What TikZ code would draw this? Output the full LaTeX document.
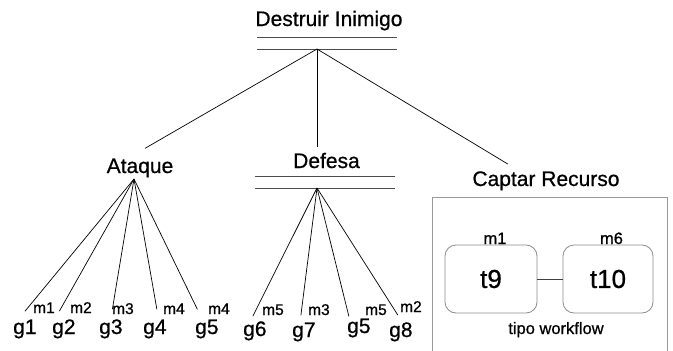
\documentclass[tikz,border=0pt]{standalone}
\usepackage{fontspec}
\setmainfont[FakeBold=0.7]{Liberation Sans}
\usetikzlibrary{calc}
\begin{document}
\begin{tikzpicture}[x=1pt,y=-1pt,
  lbl/.style={inner sep=0pt, anchor=base, font=\fontsize{21}{21}\selectfont},
  glbl/.style={inner sep=0pt, anchor=base west, font=\fontsize{21}{21}\selectfont},
  mlbl/.style={inner sep=0pt, anchor=base west, font=\fontsize{15.5}{15.5}\selectfont},
  small/.style={inner sep=0pt, anchor=base, font=\fontsize{16.5}{16.5}\selectfont},
  conn/.style={draw=black, line width=0.7pt},
  dbl/.style={draw=black!70, line width=0.8pt},
  frame/.style={draw=black!40, line width=1pt},
  tbox/.style={draw=black!45, line width=0.8pt, rounded corners=11pt, minimum width=92pt, minimum height=68pt, inner sep=0pt, font=\fontsize{26}{26}\selectfont},
  tlink/.style={draw=black!75, line width=1pt}]
\useasboundingbox (0,0) rectangle (673,351);

% top goal
\node[lbl] (dest) at (329,26) {Destruir Inimigo};
\draw[dbl] (257,37) -- (397,37);
\draw[dbl] (257,49) -- (397,49);
\coordinate (destapex) at (317,49);

% second level
\node[lbl] (ataque) at (140,173) {Ataque};
\node[lbl] (defesa) at (326.5,168) {Defesa};
\node[lbl] (captar) at (546,186) {Captar Recurso};

\draw[conn] (destapex) -- ($(ataque.north)+(5,-10)$);
\draw[conn] (destapex) -- ($(defesa.north)+(-9.5,-6)$);
\draw[conn] (destapex) -- ($(captar.north)+(-38,-7)$);

% Defesa double lines
\draw[dbl] (255,176) -- (395,176);
\draw[dbl] (255,188) -- (395,188);
\coordinate (defapex) at (317,188);
\coordinate (ataapex) at (134,179);

% Ataque leaves
\node[glbl] (g1) at (13,334) {g1};
\node[mlbl] (m1a) at (33,313) {m1};
\node[glbl] (g2) at (52,334) {g2};
\node[mlbl] (m2a) at (70,313) {m2};
\node[glbl] (g3) at (99,334) {g3};
\node[mlbl] (m3a) at (112,314) {m3};
\node[glbl] (g4) at (143,334) {g4};
\node[mlbl] (m4a) at (163,314) {m4};
\node[glbl] (g5) at (195,334) {g5};
\node[mlbl] (m4b) at (208,314) {m4};

\draw[conn] (ataapex) -- ($(g1.north)+(0,-8)$);
\draw[conn] (ataapex) -- ($(g2.north)+(-4.5,-8)$);
\draw[conn] (ataapex) -- ($(g3.north)+(1.5,-10)$);
\draw[conn] (ataapex) -- ($(g4.north)+(2,-10)$);
\draw[conn] (ataapex) -- ($(g5.north)+(-9.5,-10)$);

% Defesa leaves
\node[glbl] (g6) at (243,336) {g6};
\node[mlbl] (m5a) at (262,315) {m5};
\node[glbl] (g7) at (292,337) {g7};
\node[mlbl] (m3b) at (308,315) {m3};
\node[glbl] (g5b) at (347,333) {g5};
\node[mlbl] (m5b) at (365,315) {m5};
\node[glbl] (g8) at (389,337) {g8};
\node[mlbl] (m2b) at (400,312) {m2};

\draw[conn] (defapex) -- ($(g6.north)+(-2,-5)$);
\draw[conn] (defapex) -- ($(g7.north)+(-3,-7)$);
\draw[conn] (defapex) -- ($(g5b.north)+(-10,-2)$);
\draw[conn] (defapex) -- ($(g8.north)+(-3,-7)$);

% workflow frame
\draw[frame] (432,352) -- (432,197) -- (667,197) -- (667,352);
\node[tbox] (t9) at (491,279) {t9};
\node[tbox, minimum width=90pt] (t10) at (608,279) {t10};
\node[small] (mt9) at (495,244) {m1};
\node[small] (mt10) at (611.5,244) {m6};
\draw[tlink] (t9) -- (t10);
\node[small] (wf) at (556,334) {tipo workflow};
\end{tikzpicture}
\end{document}
